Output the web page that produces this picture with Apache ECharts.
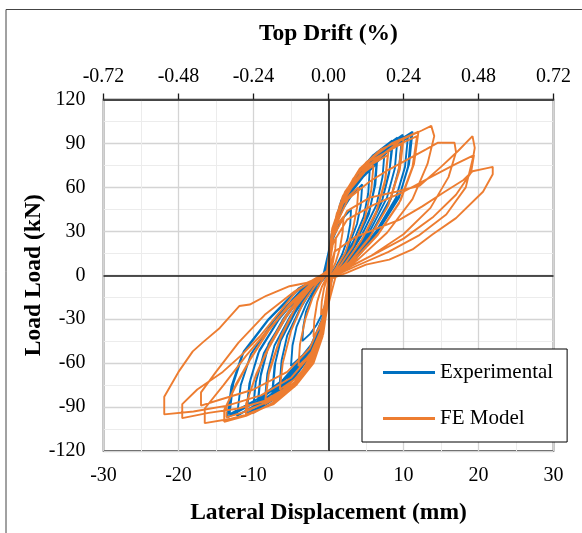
<!DOCTYPE html>
<html>
<head>
<meta charset="utf-8">
<script src="https://cdn.jsdelivr.net/npm/echarts@6/dist/echarts.min.js"></script>
<style>
html,body{margin:0;padding:0;background:#fff;}
#chart{width:582px;height:533px;}
</style>
</head>
<body>
<div id="chart"></div>
<script>
// ---- Data (displacement mm, load kN) ----
const seriesNames = ['Experimental', 'FE Model'];
const xTicksDisp = [-30, -20, -10, 0, 10, 20, 30];
const xTicksDrift = [-0.72, -0.48, -0.24, 0.00, 0.24, 0.48, 0.72];
const yTicksLoad = [-120, -90, -60, -30, 0, 30, 60, 90, 120];

const expPoints = [
  [0,0],
  [0.15,14],[0.6,25],[1.35,34],[2.1,40],[3,45],[2.9,35],[2.55,25],[1.8,14],[0.9,5],[0.15,0],
  [-0.2,-14],[-0.7,-25],[-1.6,-34],[-2.45,-40],[-3.5,-45],[-3.35,-35],[-3,-25],[-2.1,-14],[-1.05,-5],[-0.2,0],
  [0.2,19],[0.9,34],[2,46],[3.15,55],[4.5,62],[4.3,48],[3.8,35],[2.7,20],[1.35,6],[0.2,0],
  [-0.25,-19],[-1,-34],[-2.25,-47],[-3.5,-55],[-5,-62],[-4.8,-48],[-4.25,-35],[-3,-20],[-1.5,-6],[-0.25,0],
  [0.3,22],[1.1,40],[2.5,54],[3.85,64],[5.5,72],[5.3,56],[4.7,40],[3.3,23],[1.65,7],[0.3,0],
  [-0.3,-22],[-1.3,-41],[-2.9,-56],[-4.55,-66],[-6.5,-74],[-6.25,-58],[-5.5,-41],[-3.9,-24],[-1.95,-7],[-0.3,0],
  [0.3,24],[1.3,44],[2.9,60],[4.55,71],[6.5,80],[6.25,62],[5.5,45],[3.9,26],[1.95,8],[0.3,0],
  [-0.4,-24],[-1.5,-44],[-3.4,-60],[-5.25,-71],[-7.5,-80],[-7.2,-62],[-6.4,-45],[-4.5,-26],[-2.25,-8],[-0.4,0],
  [0.3,20],[1.2,38],[2.8,55],[4.6,67],[6.4,76],[6.1,60],[5.4,42],[3.8,24],[1.9,7],[0.3,0],
  [-0.4,-22],[-1.4,-41],[-3.3,-57],[-5.2,-69],[-7.4,-77],[-7.1,-60],[-6.3,-42],[-4.4,-24],[-2.2,-7],[-0.4,0],
  [0.4,26],[1.5,47],[3.4,64],[5.25,77],[7.5,86],[7.2,67],[6.4,48],[4.5,28],[2.25,9],[0.4,0],
  [-0.4,-26],[-1.7,-47],[-3.8,-64],[-5.95,-77],[-8.5,-86],[-8.15,-67],[-7.2,-48],[-5.1,-28],[-2.55,-9],[-0.4,0],
  [0.4,28],[1.7,51],[3.8,69],[5.95,82],[8.5,92],[8.15,72],[7.2,52],[5.1,29],[2.55,9],[0.4,0],
  [-0.5,-27],[-1.9,-50],[-4.3,-68],[-6.65,-80],[-9.5,-90],[-9.1,-70],[-8.1,-50],[-5.7,-29],[-2.85,-9],[-0.5,0],
  [0.4,25],[1.6,47],[3.7,65],[5.9,78],[8.4,88],[8.6,91],[8.1,70],[7.1,50],[5,28],[2.5,8],[0.4,0],
  [-0.5,-25],[-1.8,-47],[-4.2,-65],[-6.6,-78],[-9.4,-87],[-9,-67],[-8,-47],[-5.6,-27],[-2.8,-8],[-0.5,0],
  [0.5,28],[1.85,52],[4.15,70],[6.45,84],[9.2,94],[8.85,73],[7.8,53],[5.5,30],[2.75,9],[0.5,0],
  [-0.5,-28],[-2,-52],[-4.55,-70],[-7.05,-84],[-10.1,-94],[-9.7,-73],[-8.6,-53],[-6.05,-30],[-3,-9],[-0.5,0],
  [0.5,29],[2,53],[4.45,72],[6.9,85],[9.9,96],[9.5,75],[8.4,54],[5.95,31],[3,10],[0.5,0],
  [-0.55,-29],[-2.2,-52],[-4.95,-71],[-7.7,-85],[-11,-95],[-10.55,-74],[-9.35,-53],[-6.6,-30],[-3.3,-10],[-0.55,0],
  [0.5,27],[1.9,50],[4.4,69],[6.8,82],[9.3,92],[9.8,94],[9.4,73],[8.3,52],[5.9,30],[2.9,9],[0.5,0],
  [-0.55,-27],[-2.1,-50],[-4.9,-69],[-7.6,-83],[-10.9,-93],[-10.4,-71],[-9.2,-51],[-6.5,-29],[-3.2,-9],[-0.55,0],
  [0.55,29],[2.1,52],[4.75,71],[7.4,85],[10.6,95],[10.2,74],[9,53],[6.35,30],[3.2,10],[0.55,0],
  [-0.6,-29],[-2.45,-53],[-5.5,-72],[-8.55,-85],[-12.2,-96],[-11.7,-75],[-10.35,-54],[-7.3,-31],[-3.65,-10],[-0.6,0],
  [0.55,30],[2.25,54],[5.05,73],[7.85,87],[11.2,98],[10.75,76],[9.5,55],[6.7,31],[3.35,10],[0.55,0],
  [-0.7,-29],[-2.7,-53],[-6.1,-73],[-9.45,-86],[-13.5,-97],[-12.95,-76],[-11.5,-54],[-8.1,-31],[-4.05,-10],[-0.7,0],
  [0.55,28],[2.2,51],[5,70],[7.8,84],[10.3,93],[11,96],[10.6,74],[9.4,53],[6.6,30],[3.3,9],[0.55,0],
  [-0.7,-28],[-2.6,-51],[-6,-71],[-9.3,-84],[-13.2,-95],[-12.7,-74],[-11.3,-52],[-8,-30],[-4,-9],[-0.7,0]
];

const fePoints = [
  [0,0],
  [0.2,12],[0.5,20],[1,26],[0.9,18],[0.6,9],[0.2,2],[0,-2],[-0.2,-13],[-0.5,-21],[-1,-27],[-0.9,-18],[-0.6,-9],[-0.2,-2],[0,2],
  [0.2,15],[0.6,27],[1.2,35],[2,40],[1.9,30],[1.5,18],[0.9,8],[0.3,2],[0,-3],[-0.2,-16],[-0.6,-28],[-1.2,-36],[-2,-42],[-1.9,-31],[-1.5,-18],[-0.9,-8],[-0.3,-2],[0,2],
  [0.2,18],[0.8,36],[1.8,48],[2.9,55],[4,60],[3.8,46],[3.2,30],[2.2,15],[1,5],[0.1,-2],[-0.3,-20],[-0.9,-38],[-1.9,-50],[-3,-57],[-4,-62],[-3.8,-47],[-3.1,-30],[-2.1,-15],[-1,-5],[-0.1,3],
  [0.3,22],[1.1,42],[2.5,58],[4.1,68],[6,75],[5.7,58],[4.8,38],[3.3,20],[1.6,7],[0.2,-2],[-0.4,-25],[-1.3,-45],[-2.8,-61],[-4.5,-71],[-6.5,-78],[-6.1,-60],[-5,-38],[-3.4,-19],[-1.6,-6],[-0.1,3],
  [0.4,26],[1.5,48],[3.3,66],[5.5,78],[8,85],[7.6,66],[6.4,44],[4.4,24],[2.2,8],[0.3,-2],[-0.5,-30],[-1.7,-52],[-3.7,-70],[-6,-81],[-8.5,-88],[-8,-68],[-6.5,-44],[-4.4,-22],[-2.1,-7],[-0.2,3],
  [0.4,24],[1.5,45],[3.3,63],[5.5,75],[7.9,82],[7.5,63],[6.3,42],[4.3,23],[2.1,7],[0.3,-2],[-0.5,-28],[-1.7,-49],[-3.7,-67],[-6,-78],[-8.4,-85],[-7.9,-65],[-6.4,-42],[-4.3,-21],[-2,-6],[-0.2,3],
  [0.5,30],[1.9,54],[4.2,73],[7,86],[10,93],[9.5,72],[8,48],[5.5,26],[2.8,9],[0.4,-2],[-0.6,-36],[-2,-58],[-4.3,-75],[-7.3,-88],[-11,-95],[-11,-88],[-9.8,-70],[-8,-50],[-5.6,-28],[-2.8,-9],[-0.2,3],
  [0.5,28],[1.9,50],[4.2,69],[7,82],[9.8,90],[9.3,70],[7.9,47],[5.4,25],[2.7,8],[0.4,-2],[-0.6,-33],[-2,-55],[-4.3,-72],[-7.3,-85],[-10.8,-92],[-10.8,-85],[-9.6,-67],[-7.8,-47],[-5.5,-26],[-2.7,-8],[-0.2,3],
  [0.5,32],[2.2,57],[5,77],[8.4,90],[12,98],[11.4,76],[9.6,51],[6.6,28],[3.3,10],[0.4,-2],[-0.7,-40],[-2.2,-60],[-4.5,-76],[-8,-89],[-11,-96],[-13.9,-100],[-13.9,-92],[-12.5,-77],[-10.5,-58],[-8,-38],[-5.2,-20],[-2.5,-7],[-0.2,3],
  [0.5,30],[2.2,54],[5,74],[8.4,87],[11.8,95],[11.2,74],[9.4,49],[6.5,27],[3.2,9],[0.4,-2],[-0.7,-38],[-2.2,-57],[-4.5,-73],[-8,-86],[-11,-93],[-13.6,-97],[-13.6,-89],[-12.3,-74],[-10.3,-56],[-7.9,-37],[-5.1,-19],[-2.4,-6],[-0.2,3],
  [0.6,32],[2.5,56],[5.7,76],[9.6,92],[12.5,99],[13.7,102],[14.1,95],[13.2,76],[11.2,52],[7.8,29],[4,11],[0.5,-2],[-0.8,-42],[-2,-60],[-4,-73],[-7,-86],[-10,-94],[-13,-98],[-16.5,-101],[-16.5,-91],[-14,-75],[-11,-55],[-8,-37],[-5,-20],[-2,-6],[-0.2,3],
  [0.6,30],[2.6,52],[5.5,64],[8,72],[10.5,79],[13,86],[14.6,90.5],[16.8,90.5],[17,84],[16,67],[13.6,46],[10,28],[5.6,13],[2.2,4],[0.3,-3],[-0.8,-38],[-2.2,-58],[-4.5,-74],[-8,-85],[-12,-91],[-16,-94],[-19.5,-97.6],[-19.5,-88],[-17.5,-78],[-14.1,-66],[-11.5,-54],[-9.2,-42],[-6.5,-25],[-4.3,-11],[-2,-3],[0,3],
  [0.6,26],[2.5,44],[5.5,53],[9,57],[12.1,61],[15,74],[17.3,85],[19.2,95],[19.5,87],[19.3,81],[18.3,60],[15.7,41.5],[12,27],[8,16],[4,7],[1,0],[-0.8,-35],[-2.5,-55],[-5,-70],[-9,-82],[-13.5,-89],[-18,-93],[-21.9,-95],[-21.9,-83],[-20,-66],[-18.1,-52],[-16.8,-46],[-14.5,-36],[-11.9,-21],[-10.5,-20],[-8.3,-14],[-5.2,-7.5],[-3,-5.3],[-1,-1],[0,3],
  [0.6,22],[2.5,38],[6,48],[10,57],[14,68],[17,76],[19.4,82],[19,70],[17,55],[14,40],[10,25],[6,14],[2.5,5],[0,-2],[-0.8,-30],[-2.5,-50],[-5.5,-66],[-10,-78],[-14.5,-85],[-17,-89],[-17,-80],[-15,-66],[-12,-46],[-8.5,-27],[-4.5,-11],[-1.5,-2],[0,2],
  [0.8,16],[3.5,26],[6.5,32],[9.5,38],[12.5,47],[15.5,57],[18,65],[19.2,71],[21,73],[21.9,74],[21.9,69],[20.6,57],[17,39],[13.9,28],[11.2,17.6],[8.1,10.7],[5,7.3],[2.4,1.6],[0,-3]
];

const FONT = "'Liberation Serif','Times New Roman',serif";
const chart = echarts.init(document.getElementById('chart'), null, {renderer: 'canvas'});

chart.setOption({
  animation: false,
  backgroundColor: '#fff',
  textStyle: {fontFamily: FONT, color: '#000'},
  grid: {left: 103.5, right: 28.5, top: 99.5, bottom: 82, show: true, borderColor: '#1a1a1a', borderWidth: 1.5, backgroundColor: 'transparent'},
  graphic: [{
    type: 'polyline', silent: true,
    shape: {points: [[6, 533], [6, 9.5], [582, 9.5]]},
    style: {stroke: '#444', lineWidth: 1, fill: null}
  }],
  legend: {
    data: seriesNames,
    orient: 'vertical',
    left: 362, top: 349,
    icon: 'rect', itemWidth: 52, itemHeight: 3, itemGap: 25,
    padding: [13, 14, 13, 21],
    backgroundColor: '#fff', borderColor: '#000', borderWidth: 1,
    textStyle: {fontFamily: FONT, fontSize: 21, color: '#000', padding: [0, 0, 0, 0]},
    z: 10
  },
  xAxis: [{
    type: 'value', position: 'bottom', min: xTicksDisp[0], max: xTicksDisp[xTicksDisp.length - 1], interval: 10,
    name: 'Lateral Displacement (mm)', nameLocation: 'middle', nameGap: 50, nameMoveOverlap: false,
    nameTextStyle: {fontFamily: FONT, fontSize: 23.5, fontWeight: 'bold', color: '#000'},
    axisLine: {show: false, onZero: false},
    axisTick: {show: false},
    axisLabel: {fontFamily: FONT, fontSize: 20, color: '#000', margin: 15},
    splitLine: {show: true, lineStyle: {color: '#d4d4d4', width: 1.3}},
    minorTick: {show: false, splitNumber: 2},
    minorSplitLine: {show: true, lineStyle: {color: '#ececec', width: 1}}
  }, {
    type: 'value', position: 'top', min: xTicksDrift[0], max: xTicksDrift[xTicksDrift.length - 1], interval: 0.24,
    name: 'Top Drift (%)', nameLocation: 'middle', nameGap: 54, nameMoveOverlap: false,
    nameTextStyle: {fontFamily: FONT, fontSize: 23.5, fontWeight: 'bold', color: '#000'},
    axisLine: {show: true, onZero: false, lineStyle: {color: '#1a1a1a', width: 1.5}},
    axisTick: {show: true, inside: false, length: 6, lineStyle: {color: '#1a1a1a', width: 1.3}},
    axisLabel: {fontFamily: FONT, fontSize: 20, color: '#000', margin: 13, formatter: v => v.toFixed(2)},
    splitLine: {show: false}
  }],
  yAxis: [{
    type: 'value', min: yTicksLoad[0], max: yTicksLoad[yTicksLoad.length - 1], interval: 30,
    name: 'Load Load (kN)', nameLocation: 'middle', nameGap: 58, nameRotate: 90, nameMoveOverlap: false,
    nameTextStyle: {fontFamily: FONT, fontSize: 23.5, fontWeight: 'bold', color: '#000'},
    axisLine: {show: false, onZero: false},
    axisTick: {show: false},
    axisLabel: {fontFamily: FONT, fontSize: 20, color: '#000', margin: 18},
    splitLine: {show: true, lineStyle: {color: '#d4d4d4', width: 1.3}},
    minorTick: {show: false, splitNumber: 2},
    minorSplitLine: {show: true, lineStyle: {color: '#ececec', width: 1}}
  }],
  series: [{
    name: 'zero-lines', type: 'line', data: [], z: 1, silent: true,
    markLine: {
      silent: true, symbol: ['none', 'none'], label: {show: false},
      lineStyle: {color: '#1a1a1a', width: 1.6, type: 'solid'},
      data: [{xAxis: 0}, {yAxis: 0}]
    }
  }, {
    name: seriesNames[0], type: 'line', data: expPoints, showSymbol: false, symbol: 'none',
    lineStyle: {color: '#0070C0', width: 1.9}, itemStyle: {color: '#0070C0'}, z: 2
  }, {
    name: seriesNames[1], type: 'line', data: fePoints, showSymbol: false, symbol: 'none',
    lineStyle: {color: '#ED7D31', width: 1.9}, itemStyle: {color: '#ED7D31'}, z: 3
  }]
});
</script>
</body>
</html>
